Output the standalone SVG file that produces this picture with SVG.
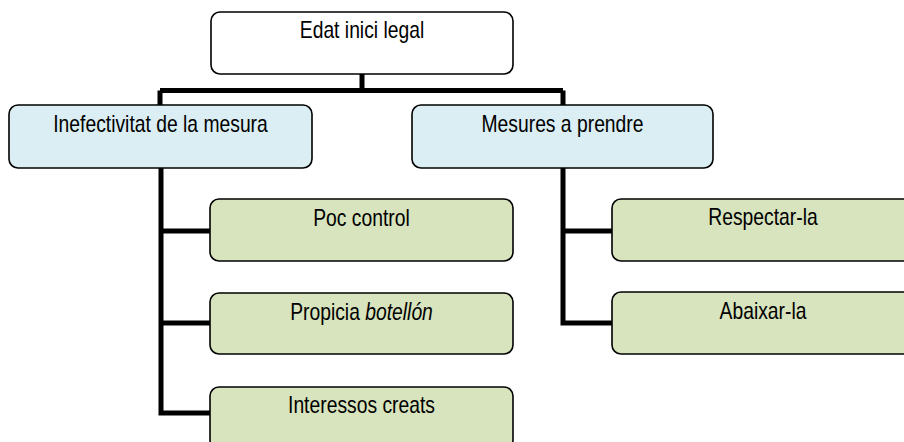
<svg xmlns="http://www.w3.org/2000/svg" width="904" height="442" viewBox="0 0 904 442">
<style>
.box{stroke:#000;stroke-width:1.6}
.root{fill:#fff}
.l2{fill:#DAEEF3}
.l3{fill:#D7E4BD}
.lbl{font-family:"Liberation Sans",Arial,sans-serif;font-size:23px;fill:#000;text-anchor:middle}
.conn{fill:none;stroke:#000;stroke-width:5}
</style>
<g id="connectors">
<path class="conn" d="M362 74 V90.5 M160 90.5 H563 M160 90.5 V105 M563 90.5 V105"/>
<path class="conn" d="M161 168 V413 H210 M161 231 H210 M161 323 H210"/>
<path class="conn" d="M563 168 V323 H612 M563 231 H612"/>
</g>
<g id="n-root">
<rect class="box root" x="211" y="12" width="302" height="62" rx="9"/>
<text class="lbl" transform="translate(362 38) scale(0.84 1)">Edat inici legal</text>
</g>
<g id="n-inefectivitat">
<rect class="box l2" x="9" y="105" width="303" height="63" rx="9"/>
<text class="lbl" transform="translate(160.5 132) scale(0.84 1)">Inefectivitat de la mesura</text>
</g>
<g id="n-mesures">
<rect class="box l2" x="412" y="105" width="301" height="63" rx="9"/>
<text class="lbl" transform="translate(562.5 132) scale(0.84 1)">Mesures a prendre</text>
</g>
<g id="n-poc">
<rect class="box l3" x="210" y="199" width="303" height="62" rx="9"/>
<text class="lbl" transform="translate(361.5 226) scale(0.84 1)">Poc control</text>
</g>
<g id="n-propicia">
<rect class="box l3" x="210" y="293" width="303" height="61" rx="9"/>
<text class="lbl" transform="translate(361.5 320) scale(0.84 1)">Propicia <tspan font-style="italic">botellón</tspan></text>
</g>
<g id="n-interessos">
<rect class="box l3" x="210" y="387" width="303" height="62" rx="9"/>
<text class="lbl" transform="translate(361.5 413) scale(0.84 1)">Interessos creats</text>
</g>
<g id="n-respectar">
<rect class="box l3" x="612" y="199" width="303" height="62" rx="9"/>
<text class="lbl" transform="translate(763 225) scale(0.84 1)">Respectar-la</text>
</g>
<g id="n-abaixar">
<rect class="box l3" x="612" y="292" width="303" height="62" rx="9"/>
<text class="lbl" transform="translate(763 319) scale(0.84 1)">Abaixar-la</text>
</g>
</svg>
